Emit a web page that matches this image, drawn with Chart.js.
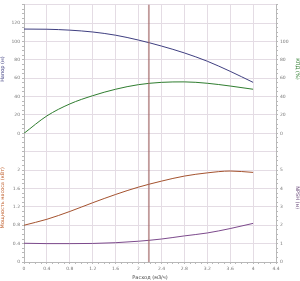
<!DOCTYPE html>
<html><head><meta charset="utf-8">
<script src="https://cdn.jsdelivr.net/npm/chart.js@4/dist/chart.umd.min.js"></script>
<style>html,body{margin:0;padding:0;background:#fff;}#wrap{width:300px;height:281px;position:relative;}</style>
</head><body><div id="wrap"><canvas id="c"></canvas></div>
<script>
const flow       = [0, 0.4, 0.8, 1.2, 1.6, 2.0, 2.4, 2.8, 3.2, 3.6, 4.0];
const head       = [113.5, 113.3, 112.3, 110.3, 106.8, 101.5, 95, 87.5, 78.5, 67.5, 55.5];
const efficiency = [0, 19, 32, 41, 48, 53, 55.5, 56, 54.5, 51.5, 48];
const power      = [0.80, 0.93, 1.10, 1.29, 1.47, 1.63, 1.76, 1.87, 1.94, 1.98, 1.95];
const npsh       = [1.02, 1.00, 1.00, 1.01, 1.05, 1.13, 1.25, 1.42, 1.58, 1.82, 2.10];
const dutyFlow   = 2.18;

const flowTicks  = [0, 0.4, 0.8, 1.2, 1.6, 2, 2.4, 2.8, 3.2, 3.6, 4, 4.4];
const headTicks  = [0, 20, 40, 60, 80, 100, 120];
const effTicks   = [0, 20, 40, 60, 80, 100];
const powerTicks = [0, 0.4, 0.8, 1.2, 1.6, 2];
const npshTicks  = [0, 1, 2, 3, 4, 5];

const GRID = '#e4dce4';
const TICKC = '#b8b8b8';
const LBL = '#777';
const FONT = {family: 'DejaVu Sans', size: 4.5};

function has(list, v){ return list.some(t => Math.abs(t - v) < 1e-6); }
function fmt(v){ return String(Math.round(v*100)/100); }
function pts(ys){ return flow.map((x,i)=>({x:x, y:ys[i]})); }

const vline = {
  id:'vline',
  afterDatasetsDraw(chart){
    const {ctx, chartArea, scales} = chart;
    const x = scales.x.getPixelForValue(dutyFlow);
    ctx.save();
    ctx.strokeStyle = 'rgba(160,100,100,0.65)';
    ctx.lineWidth = 1.8;
    ctx.beginPath(); ctx.moveTo(x, chartArea.top); ctx.lineTo(x, chartArea.bottom); ctx.stroke();
    ctx.restore();
  }
};

function yAxis(pos, min, max, step, labels, title, tcolor, grid){
  const d = labels[1]-labels[0], last = labels[labels.length-1];
  const gl = labels.concat([last+d, last+2*d]);
  return {
    type:'linear', position:pos, stack: pos, stackWeight:1, min:min, max:max,
    afterFit: s => { s.width = 24; },
    border:{display:true, color:TICKC},
    grid:{
      drawOnChartArea: grid,
      color: c => has(gl, c.tick.value) ? GRID : 'rgba(0,0,0,0)',
      tickColor: TICKC, tickLength: 2, lineWidth: 1
    },
    ticks:{stepSize:step, autoSkip:false, color:LBL, font:FONT, padding:2,
      callback: v => has(labels, v) ? fmt(v) : ''},
    title:{display:true, text:title, color:tcolor, font:{family:'DejaVu Sans', size:5}, padding:{top:0,bottom:2}}
  };
}

new Chart(document.getElementById('c'), {
  type:'line',
  data:{datasets:[
    {label:'Напор', data:pts(head), yAxisID:'yH', borderColor:'#3f3f80', borderWidth:1, pointRadius:0, cubicInterpolationMode:'monotone'},
    {label:'КПД', data:pts(efficiency), yAxisID:'yE', borderColor:'#2f7d2f', borderWidth:1, pointRadius:0, cubicInterpolationMode:'monotone'},
    {label:'Мощность', data:pts(power), yAxisID:'yP', borderColor:'#a4522e', borderWidth:1, pointRadius:0, cubicInterpolationMode:'monotone'},
    {label:'NPSH', data:pts(npsh), yAxisID:'yN', borderColor:'#7c4a8c', borderWidth:1, pointRadius:0, cubicInterpolationMode:'monotone'}
  ]},
  options:{
    responsive:true, maintainAspectRatio:false, animation:false,
    layout:{padding:{top:3, left:0, right:0, bottom:0}},
    plugins:{legend:{display:false}, tooltip:{enabled:false}},
    scales:{
      x:{type:'linear', min:0, max:4.4,
        afterFit: s => { s.height = 19; },
        border:{display:true, color:TICKC},
        grid:{color: c => has(flowTicks, c.tick.value) ? GRID : 'rgba(0,0,0,0)', tickColor:TICKC, tickLength:2},
        ticks:{stepSize:0.1, autoSkip:false, maxRotation:0, color:LBL, font:FONT, padding:2,
          callback: v => has(flowTicks, v) ? fmt(v) : ''},
        title:{display:true, text:'Расход (м3/ч)', color:'#444', font:{family:'DejaVu Sans', size:5}, padding:{top:1,bottom:0}}
      },
      yP: yAxis('left', 0, 2.8, 0.1, powerTicks, 'Мощность насоса (кВт)', '#c0602e', true),
      yH: yAxis('left', 0, 140, 5, headTicks, 'Напор (м)', '#3f3f80', true),
      yE: yAxis('right', 0, 140, 5, effTicks, 'КПД (%)', '#2f7d2f', false),
      yN: yAxis('right', 0, 7, 0.25, npshTicks, 'NPSH (м)', '#6a4a7a', false)
    }
  },
  plugins:[vline]
});
</script></body></html>
